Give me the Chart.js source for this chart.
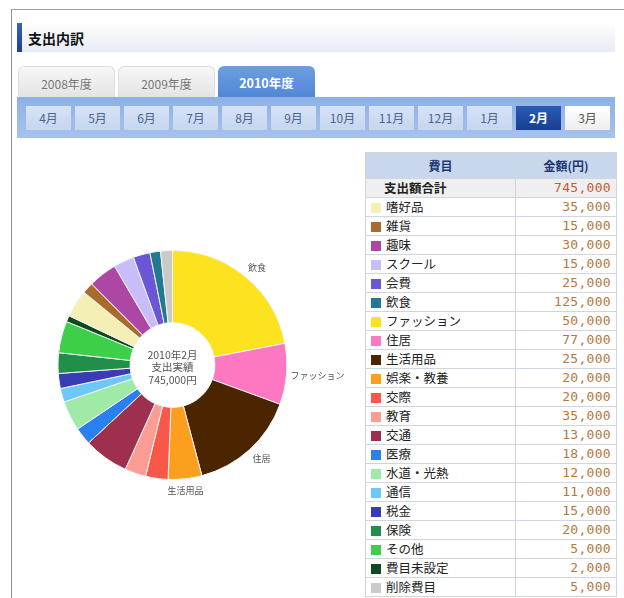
<!DOCTYPE html>
<html>
<head>
<meta charset="utf-8">
<script src="https://cdn.jsdelivr.net/npm/chart.js@4"></script>
<style>
  body { margin: 0; background: #fff; font-family: "Noto Sans CJK JP", "Noto Sans", sans-serif; }
  .page { position: relative; width: 624px; height: 598px; overflow: hidden; }
  .frame { position: absolute; left: 11px; top: 9px; right: -2px; bottom: -2px; border-left: 1px solid #8c8c8c; border-top: 1px solid #a0a0a0; }
  .head { position: absolute; left: 17px; top: 23px; width: 598px; height: 29px;
          background: linear-gradient(#ffffff, #e7ebf4); }
  .head .bar { position: absolute; left: 0; top: 0; width: 5px; height: 29px; background: linear-gradient(#3a62b8, #1e3f8e); }
  .head span { position: absolute; left: 11px; top: 5px; font-size: 14px; font-weight: bold; color: #111; }
  .tab { position: absolute; top: 66px; height: 31px; width: 97px; border-radius: 6px 6px 0 0; text-align: center;
         line-height: 33px; font-size: 12px; box-sizing: border-box; }
  .tab.off { background: linear-gradient(#f7f7f7, #e4e4e4); border: 1px solid #dedede; border-bottom: none; color: #777; }
  .tab.on { background: linear-gradient(#6e9ee2, #5087d6); color: #fff; font-weight: bold; font-size: 12.5px; }
  .months { position: absolute; left: 17px; top: 97px; width: 598px; height: 41px; background: linear-gradient(#8db0e5, #a7c2ec); }
  .mon { position: absolute; top: 9px; width: 45px; height: 24px; line-height: 24px; text-align: center; font-size: 12px;
         color: #4a6590; background: linear-gradient(#d6e2f5, #c6d6f0); }
  .mon.on { background: linear-gradient(#2a5cb6, #173f92); color: #fff; font-weight: bold; }
  .mon.next { background: linear-gradient(#ffffff, #eeeeee); color: #555; }
  #chartBox { position: absolute; left: 0; top: 215px; width: 360px; height: 300px; }
  table { position: absolute; left: 365px; top: 152px; width: 251px; border-collapse: collapse; table-layout: fixed; }
  td, th { border: 1px solid #d0d6e0; padding: 0; height: 18px; line-height: 18px; font-size: 12.5px; overflow: hidden; white-space: nowrap; }
  th { height: 25px; line-height: 25px; background: #c9d7ec; color: #1c3773; font-weight: bold; font-size: 12px; }
  td.name { color: #222; }
  td.name i { display: inline-block; width: 10px; height: 10px; margin: 0 5px 0 5px; vertical-align: -1px; }
  td.amt { text-align: right; padding-right: 5px; font-family: "DejaVu Sans Mono", monospace; font-size: 13px; color: #b8763f; letter-spacing: 0.3px; }
  tr.total td { background: #efefef; }
  tr.total td.name { font-weight: bold; padding-left: 18px; }
  tr.total td.amt { color: #c65a3a; }
</style>
</head>
<body>
<div class="page">
  <div class="frame"></div>
  <div class="head"><div class="bar"></div><span>支出内訳</span></div>
  <div id="tabs"></div>
  <div class="months" id="months"></div>
  <div id="chartBox"><canvas id="pie" width="360" height="300"></canvas></div>
  <table id="tbl"><colgroup><col style="width:150px"><col style="width:101px"></colgroup><tbody id="rows"></tbody></table>
</div>
<script>
// 年度タブ・月ボタン
const years = ['2008年度', '2009年度', '2010年度'];
const activeYear = 2;
const months = ['4月', '5月', '6月', '7月', '8月', '9月', '10月', '11月', '12月', '1月', '2月', '3月'];
const activeMonth = 10;

// 費目一覧（表の順）
const categories = ['嗜好品', '雑貨', '趣味', 'スクール', '会費', '飲食', 'ファッション', '住居', '生活用品', '娯楽・教養',
  '交際', '教育', '交通', '医療', '水道・光熱', '通信', '税金', '保険', 'その他', '費目未設定', '削除費目'];
const amounts = [35000, 15000, 30000, 15000, 25000, 125000, 50000, 77000, 25000, 20000,
  20000, 35000, 13000, 18000, 12000, 11000, 15000, 20000, 5000, 2000, 5000];
const colors = ['#f4efb4', '#a96b2b', '#ad47a6', '#c8bdf9', '#6b56d6', '#217a92', '#fde31f', '#fd78c1', '#4a2500', '#fc9f1e',
  '#f9574a', '#fb9d95', '#9f2f4f', '#2a80f1', '#9feaa6', '#6ec8f7', '#3a3cb6', '#218e49', '#3dcf4a', '#0e4920', '#cacaca'];
const totalLabel = '支出額合計';
const totalAmount = 745000;

// 円グラフ（時計回り、上から）: 表のどの色か / 扇の大きさ（絵から読んだ値）
const sliceColorIndex = [6, 7, 8, 9, 10, 11, 12, 13, 14, 15, 16, 17, 18, 19, 0, 1, 2, 3, 4, 5, 20];
const sliceValues = [125000, 49000, 87000, 27000, 18000, 17000, 36000, 14000, 24000, 11000, 12000,
  16500, 25500, 5000, 22000, 9000, 23000, 16500, 13500, 8500, 9500];
const sliceLabels = ['飲食', 'ファッション', '住居', '生活用品'];
const centerLines = ['2010年2月', '支出実績', '745,000円'];

// タブ
const tabsEl = document.getElementById('tabs');
years.forEach((y, i) => {
  const d = document.createElement('div');
  d.className = 'tab ' + (i === activeYear ? 'on' : 'off');
  d.style.left = (18 + i * 100) + 'px';
  d.textContent = y;
  tabsEl.appendChild(d);
});

const monEl = document.getElementById('months');
months.forEach((m, i) => {
  const d = document.createElement('div');
  d.className = 'mon' + (i === activeMonth ? ' on' : (i > activeMonth ? ' next' : ''));
  d.style.left = (9 + i * 49) + 'px';
  d.textContent = m;
  monEl.appendChild(d);
});

// 表
const fmt = v => v.toLocaleString('en-US');
let html = '<tr><th>費目</th><th>金額(円)</th></tr>';
html += `<tr class="total"><td class="name">${totalLabel}</td><td class="amt">${fmt(totalAmount)}</td></tr>`;
categories.forEach((c, i) => {
  html += `<tr><td class="name"><i style="background:${colors[i]}"></i>${c}</td><td class="amt">${fmt(amounts[i])}</td></tr>`;
});
document.getElementById('rows').innerHTML = html;

// 外側ラベルと中央テキスト
const pieText = {
  id: 'pieText',
  afterDatasetsDraw(chart) {
    const { ctx } = chart;
    const arcs = chart.getDatasetMeta(0).data;
    const cx = arcs[0].x, cy = arcs[0].y, R = arcs[0].outerRadius;
    ctx.save();
    ctx.fillStyle = '#555';
    ctx.font = '9px "Noto Sans CJK JP"';
    ctx.textBaseline = 'middle';
    sliceLabels.forEach((t, i) => {
      const a = arcs[i];
      const mid = (a.startAngle + a.endAngle) / 2 + Math.PI / 2; // 上から時計回り
      const s = Math.sin(mid), c = Math.cos(mid);
      ctx.textAlign = s > 0.3 ? 'left' : (s < -0.3 ? 'right' : 'center');
      ctx.fillText(t, cx + (R + 4) * s, cy - (R + 12) * c);
    });
    ctx.textAlign = 'center';
    ctx.font = '10.5px "Noto Sans CJK JP"';
    centerLines.forEach((t, i) => ctx.fillText(t, cx, cy - 10 + i * 12.5));
    ctx.restore();
  }
};

new Chart(document.getElementById('pie'), {
  type: 'doughnut',
  data: {
    labels: sliceColorIndex.map(i => categories[i]),
    datasets: [{
      data: sliceValues,
      backgroundColor: sliceColorIndex.map(i => colors[i]),
      borderColor: '#f4f4f4',
      borderWidth: 1
    }]
  },
  options: {
    responsive: false,
    animation: false,
    cutout: '37%',
    layout: { padding: { top: 35, bottom: 35, left: 57.5, right: 72.5 } },
    plugins: { legend: { display: false }, tooltip: { enabled: false } }
  },
  plugins: [pieText]
});
</script>
</body>
</html>
